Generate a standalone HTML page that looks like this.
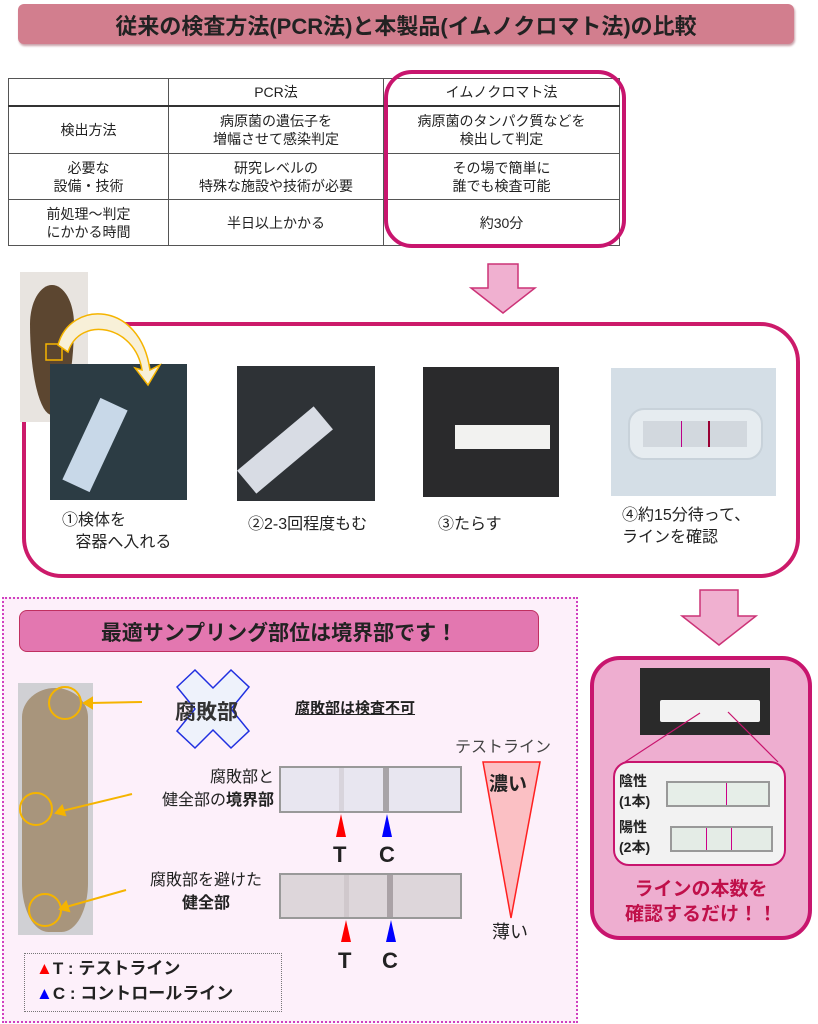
<!DOCTYPE html>
<html><head><meta charset="utf-8"><style>
*{margin:0;padding:0;box-sizing:border-box}
body{width:818px;height:1024px;position:relative;background:#fff;font-family:"Liberation Sans","Noto Sans CJK JP",sans-serif;color:#222;overflow:hidden}
.a{position:absolute}
.t{position:absolute;white-space:nowrap}
table{border-collapse:collapse;position:absolute;left:8px;top:78px;width:612px;font-size:14px;text-align:center}
td{border:1px solid #555;line-height:18px;padding:0}
.b{font-weight:bold}
</style></head><body>
<div class="a" style="left:18px;top:4px;width:776px;height:40px;background:#d27e8e;border-radius:6px;box-shadow:1px 2px 2px #c9a0a8"></div>
<div class="t b" style="left:18px;top:9px;width:776px;text-align:center;font-size:22px;color:#222">従来の検査方法(PCR法)と本製品(イムノクロマト法)の比較</div>

<table>
<tr style="height:27px;border-bottom:2px solid #333"><td style="width:160px"></td><td style="width:215px">PCR法</td><td>イムノクロマト法</td></tr>
<tr style="height:48px"><td>検出方法</td><td>病原菌の遺伝子を<br>増幅させて感染判定</td><td>病原菌のタンパク質などを<br>検出して判定</td></tr>
<tr style="height:46px"><td>必要な<br>設備・技術</td><td>研究レベルの<br>特殊な施設や技術が必要</td><td>その場で簡単に<br>誰でも検査可能</td></tr>
<tr style="height:46px"><td>前処理～判定<br>にかかる時間</td><td>半日以上かかる</td><td>約30分</td></tr>
</table>
<div class="a" style="left:384px;top:70px;width:242px;height:178px;border:4px solid #c8156e;border-radius:28px"></div>

<svg class="a" style="left:0;top:0" width="818" height="1024">
<polygon points="488,264 518,264 518,288 535,288 503,313 471,288 488,288" fill="#f0b0d0" stroke="#cc3377" stroke-width="1.5"/>
<polygon points="700,590 738,590 738,616 756,616 719,645 682,616 700,616" fill="#f0b0d0" stroke="#cc3377" stroke-width="1.5"/>
</svg>

<div class="a" style="left:22px;top:322px;width:778px;height:256px;border:4px solid #cc1a6a;border-radius:40px"></div>
<div class="a" style="left:20px;top:272px;width:68px;height:150px;background:#e8e4e0"></div>
<div class="a" style="left:30px;top:285px;width:44px;height:130px;background:#5c4630;border-radius:50% 50% 50% 50%/30% 30% 70% 70%"></div>
<div class="a" style="left:50px;top:364px;width:137px;height:136px;background:#2c3c44"></div>
<div class="a" style="left:80px;top:400px;width:30px;height:90px;background:#c8d8e8;transform:rotate(25deg)"></div>
<div class="a" style="left:237px;top:366px;width:138px;height:135px;background:#2e3236"></div>
<div class="a" style="left:270px;top:400px;width:30px;height:100px;background:#d8dce4;transform:rotate(50deg)"></div>
<div class="a" style="left:423px;top:367px;width:136px;height:130px;background:#2a2a2c"></div>
<div class="a" style="left:455px;top:425px;width:95px;height:24px;background:#f2f2f0"></div>
<div class="a" style="left:611px;top:368px;width:165px;height:128px;background:#d4dee6"></div>
<div class="a" style="left:628px;top:408px;width:135px;height:52px;background:#e6ecf0;border-radius:16px;border:2px solid #c8d2da"></div>
<div class="a" style="left:643px;top:421px;width:104px;height:26px;background:#d2d8de"></div>
<div class="a" style="left:681px;top:421px;width:1px;height:26px;background:#b08"></div>
<div class="a" style="left:708px;top:421px;width:2px;height:26px;background:#903"></div>
<svg class="a" style="left:0;top:0" width="818" height="1024">
<rect x="46" y="344" width="16" height="16" fill="none" stroke="#f5b400" stroke-width="1.5"/>
<path d="M58,345 C70,300 140,300 150,370 L160,365 L148,385 L135,368 L142,370 C135,325 80,315 68,352 Z" fill="#f8f0d8" stroke="#f5b400" stroke-width="1.5"/>
</svg>
<div class="t" style="left:62px;top:510px;font-size:16px;line-height:22px">①検体を<br>&nbsp;&nbsp;&nbsp;容器へ入れる</div>
<div class="t" style="left:248px;top:510px;font-size:16px">②2-3回程度もむ</div>
<div class="t" style="left:438px;top:510px;font-size:16px">③たらす</div>
<div class="t" style="left:622px;top:505px;font-size:16px;line-height:22px">④約15分待って、<br>ラインを確認</div>

<div class="a" style="left:2px;top:597px;width:576px;height:426px;background:#fdf0fa;border:2px dotted #d040c0"></div>
<div class="a" style="left:19px;top:610px;width:520px;height:42px;background:#e377b0;border:1.5px solid #c03060;border-radius:8px"></div>
<div class="t b" style="left:19px;top:617px;width:520px;text-align:center;font-size:21px">最適サンプリング部位は境界部です！</div>

<div class="a" style="left:18px;top:683px;width:75px;height:252px;background:#d0d0d4"></div>
<div class="a" style="left:22px;top:688px;width:66px;height:244px;background:#a8957c;border-radius:50% 50% 40% 40%/12% 12% 20% 20%"></div>
<svg class="a" style="left:0;top:0" width="818" height="1024">
<circle cx="65" cy="703" r="16" fill="none" stroke="#f5b400" stroke-width="2"/>
<circle cx="36" cy="809" r="16" fill="none" stroke="#f5b400" stroke-width="2"/>
<circle cx="45" cy="910" r="16" fill="none" stroke="#f5b400" stroke-width="2"/>
<g stroke="#f5b400" stroke-width="2" fill="#f5b400">
<line x1="142" y1="702" x2="90" y2="703"/><polygon points="84,703 92,698 92,708"/>
<line x1="132" y1="794" x2="62" y2="811"/><polygon points="56,813 62,806 65,815"/>
<line x1="126" y1="890" x2="66" y2="907"/><polygon points="60,909 66,902 69,911"/>
</g>
<polygon points="177,687 195,670 213,688 231,670 249,687 231,709 249,731 231,748 213,730 195,748 177,731 195,709" fill="#eef2fb" stroke="#2030e0" stroke-width="1.5"/>
<polygon points="483,762 540,762 511,918" fill="#fbc0c4" stroke="#ff2020" stroke-width="1.5"/>
<polygon points="341,814 336,837 346,837" fill="#ff0000"/>
<polygon points="387,814 382,837 392,837" fill="#0000ff"/>
<polygon points="346,920 341,942 351,942" fill="#ff0000"/>
<polygon points="391,920 386,942 396,942" fill="#0000ff"/>
</svg>
<div class="t b" style="left:175px;top:696px;font-size:21px;color:#333">腐敗部</div>
<div class="t b" style="left:295px;top:697px;font-size:15px;text-decoration:underline">腐敗部は検査不可</div>
<div class="t" style="left:455px;top:733px;font-size:16px;color:#444">テストライン</div>
<div class="t b" style="left:489px;top:769px;font-size:19px">濃い</div>
<div class="t" style="left:492px;top:918px;font-size:18px">薄い</div>
<div class="t" style="left:142px;top:766px;font-size:16px;line-height:23px;text-align:right;width:132px">腐敗部と<br>健全部の<b>境界部</b></div>
<div class="t" style="left:138px;top:869px;font-size:16px;line-height:23px;text-align:center;width:136px">腐敗部を避けた<br><b>健全部</b></div>
<div class="a" style="left:279px;top:766px;width:183px;height:47px;background:#e8e6f0;border:2px solid #999"></div>
<div class="a" style="left:339px;top:768px;width:5px;height:43px;background:#d8d4dc"></div>
<div class="a" style="left:383px;top:768px;width:6px;height:43px;background:#a8a4a8"></div>
<div class="a" style="left:279px;top:873px;width:183px;height:46px;background:#ddd6da;border:2px solid #999"></div>
<div class="a" style="left:344px;top:875px;width:5px;height:42px;background:#d0c8cc"></div>
<div class="a" style="left:387px;top:875px;width:6px;height:42px;background:#aaa2a6"></div>
<div class="t b" style="left:333px;top:842px;font-size:22px">T</div>
<div class="t b" style="left:379px;top:842px;font-size:22px">C</div>
<div class="t b" style="left:338px;top:948px;font-size:22px">T</div>
<div class="t b" style="left:382px;top:948px;font-size:22px">C</div>
<div class="a" style="left:24px;top:953px;width:258px;height:59px;border:1px dotted #777"></div>
<div class="t b" style="left:36px;top:956px;font-size:17px;line-height:25px"><span style="color:#f00">▲</span>T : テストライン<br><span style="color:#00f">▲</span>C : コントロールライン</div>

<div class="a" style="left:590px;top:656px;width:222px;height:284px;background:#eeaed0;border:4px solid #c8156e;border-radius:30px"></div>
<div class="a" style="left:640px;top:668px;width:130px;height:67px;background:#2a2a2a"></div>
<div class="a" style="left:660px;top:700px;width:100px;height:22px;background:#f2f2f2;border-radius:2px"></div>
<svg class="a" style="left:0;top:0" width="818" height="1024">
<line x1="700" y1="713" x2="625" y2="762" stroke="#c8156e" stroke-width="1.2"/>
<line x1="728" y1="712" x2="778" y2="762" stroke="#c8156e" stroke-width="1.2"/>
</svg>
<div class="a" style="left:613px;top:761px;width:173px;height:105px;background:#f2f2f2;border:2px solid #c8156e;border-radius:16px"></div>
<div class="t b" style="left:619px;top:771px;font-size:14px;line-height:20px">陰性<br>(1本)</div>
<div class="t b" style="left:619px;top:817px;font-size:14px;line-height:20px">陽性<br>(2本)</div>
<div class="a" style="left:666px;top:781px;width:104px;height:26px;background:#e6eee8;border:2px solid #999"></div>
<div class="a" style="left:726px;top:783px;width:1px;height:22px;background:#c08"></div>
<div class="a" style="left:670px;top:826px;width:103px;height:26px;background:#e4ece6;border:2px solid #999"></div>
<div class="a" style="left:706px;top:828px;width:1px;height:22px;background:#c08"></div>
<div class="a" style="left:731px;top:828px;width:1px;height:22px;background:#c08"></div>
<div class="t b" style="left:590px;top:877px;width:222px;text-align:center;font-size:19px;line-height:25px;color:#c0104a">ラインの本数を<br>確認するだけ！！</div>
</body></html>
